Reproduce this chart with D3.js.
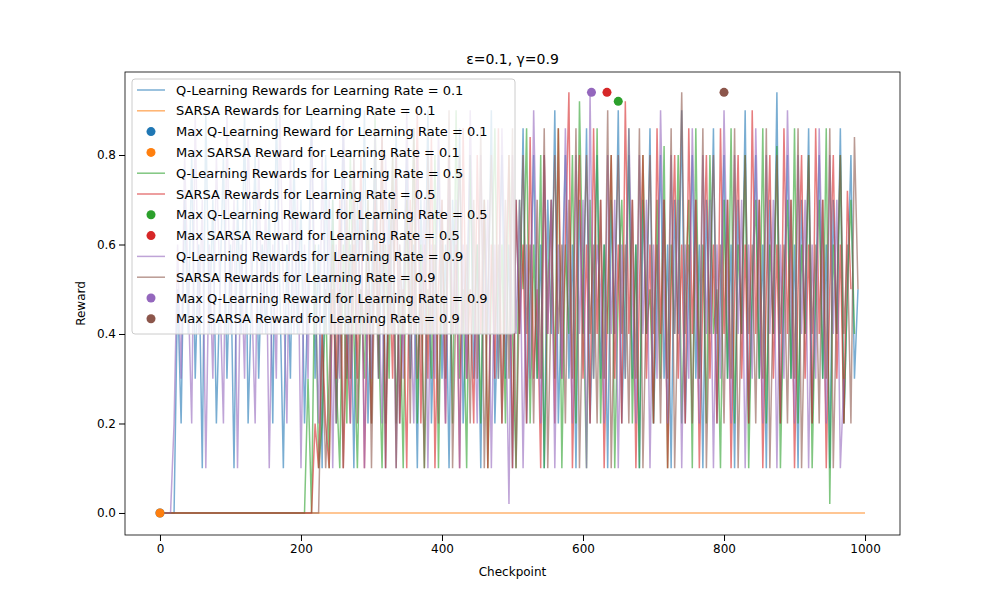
<!DOCTYPE html><html><head><meta charset="utf-8"><script src="https://cdn.jsdelivr.net/npm/d3@7"></script>
<style>body{margin:0;background:#fff}text{font-family:"DejaVu Sans",sans-serif}</style></head><body><svg width="1000" height="600"></svg>
<script>
const step = 5;
const qlr01 = [0,0,0,0,0,0.5,0.2,0.7,0.4,0.8,0.3,0.6,0.1,0.9,0.4,0.7,0.2,0.5,0.8,0.3,0.6,0.1,0.7,0.4,0.9,0.2,0.5,0.8,0.3,0.6,0.4,0.7,0.2,0.9,0.5,0.1,0.6,0.3,0.8,0.4,0.7,0.2,0.5,0.9,0.3,0.6,0.1,0.8,0.4,0.7,0.2,0.5,0.86,0.3,0.6,0.1,0.7,0.4,0.9,0.2,0.5,0.8,0.3,0.6,0.1,0.7,0.4,0.86,0.2,0.5,0.8,0.3,0.6,0.1,0.7,0.4,0.9,0.2,0.5,0.8,0.3,0.6,0.1,0.7,0.4,0.86,0.2,0.5,0.8,0.3,0.6,0.1,0.7,0.4,0.9,0.2,0.5,0.8,0.3,0.6,0.1,0.7,0.4,0.86,0.2,0.5,0.8,0.3,0.6,0.1,0.7,0.4,0.9,0.2,0.5,0.8,0.3,0.6,0.1,0.7,0.4,0.86,0.2,0.5,0.8,0.3,0.6,0.1,0.7,0.4,0.9,0.2,0.5,0.8,0.3,0.6,0.1,0.7,0.4,0.86,0.2,0.5,0.8,0.3,0.6,0.1,0.7,0.4,0.9,0.2,0.5,0.8,0.3,0.6,0.1,0.7,0.4,0.86,0.2,0.5,0.8,0.3,0.6,0.1,0.7,0.4,0.9,0.2,0.5,0.8,0.3,0.6,0.1,0.7,0.4,0.94,0.2,0.5,0.8,0.3,0.6,0.1,0.7,0.4,0.86,0.2,0.5,0.8,0.3,0.6,0.1,0.7,0.4,0.86,0.2,0.5,0.8,0.3,0.5];
const sarsa01 = [0,0,0,0,0,0,0,0,0,0,0,0,0,0,0,0,0,0,0,0,0,0,0,0,0,0,0,0,0,0,0,0,0,0,0,0,0,0,0,0,0,0,0,0,0,0,0,0,0,0,0,0,0,0,0,0,0,0,0,0,0,0,0,0,0,0,0,0,0,0,0,0,0,0,0,0,0,0,0,0,0,0,0,0,0,0,0,0,0,0,0,0,0,0,0,0,0,0,0,0,0,0,0,0,0,0,0,0,0,0,0,0,0,0,0,0,0,0,0,0,0,0,0,0,0,0,0,0,0,0,0,0,0,0,0,0,0,0,0,0,0,0,0,0,0,0,0,0,0,0,0,0,0,0,0,0,0,0,0,0,0,0,0,0,0,0,0,0,0,0,0,0,0,0,0,0,0,0,0,0,0,0,0,0,0,0,0,0,0,0,0,0,0,0,0,0,0,0,0,0,0];
const qlr05 = [0,0,0,0,0,0,0,0,0,0,0,0,0,0,0,0,0,0,0,0,0,0,0,0,0,0,0,0,0,0,0,0,0,0,0,0,0,0,0,0,0,0,0.3,0,0.6,0.1,0.2,0.5,0.1,0.7,0.3,0.1,0.6,0.2,0.8,0.4,0.1,0.5,0.3,0.7,0.2,0.9,0.4,0.1,0.6,0.3,0.8,0.2,0.5,0.1,0.7,0.4,0.86,0.2,0.6,0.1,0.5,0.3,0.8,0.1,0.6,0.4,0.7,0.2,0.9,0.3,0.5,0.1,0.8,0.4,0.6,0.2,0.7,0.1,0.5,0.86,0.3,0.6,0.2,0.8,0.4,0.1,0.7,0.5,0.86,0.2,0.6,0.3,0.8,0.1,0.5,0.7,0.3,0.86,0.1,0.6,0.4,0.8,0.2,0.92,0.5,0.1,0.7,0.3,0.86,0.2,0.6,0.4,0.8,0.1,0.5,0.7,0.3,0.86,0.2,0.6,0.1,0.8,0.4,0.5,0.2,0.7,0.3,0.82,0.1,0.6,0.4,0.8,0.2,0.5,0.7,0.1,0.86,0.3,0.6,0.2,0.8,0.4,0.5,0.1,0.7,0.3,0.86,0.2,0.6,0.4,0.8,0.1,0.5,0.7,0.3,0.86,0.2,0.6,0.4,0.82,0.1,0.5,0.7,0.3,0.86,0.2,0.6,0.4,0.8,0.1,0.5,0.7,0.3,0.86,0.02,0.6,0.4,0.8,0.2,0.5,0.7,0.4];
const sarsa05 = [0,0,0,0,0,0,0,0,0,0,0,0,0,0,0,0,0,0,0,0,0,0,0,0,0,0,0,0,0,0,0,0,0,0,0,0,0,0,0,0,0,0,0,0,0.2,0.1,0.4,0.2,0.1,0.5,0.3,0.7,0.1,0.4,0.2,0.6,0.3,0.8,0.1,0.5,0.2,0.7,0.4,0.86,0.1,0.6,0.3,0.8,0.2,0.5,0.1,0.7,0.4,0.9,0.2,0.6,0.3,0.84,0.1,0.5,0.7,0.2,0.8,0.4,0.6,0.1,0.86,0.3,0.5,0.2,0.8,0.4,0.7,0.1,0.6,0.3,0.86,0.2,0.5,0.8,0.1,0.7,0.4,0.6,0.2,0.84,0.3,0.5,0.1,0.8,0.4,0.7,0.2,0.86,0.3,0.6,0.94,0.1,0.5,0.8,0.3,0.6,0.2,0.86,0.4,0.7,0.1,0.5,0.8,0.3,0.6,0.2,0.92,0.4,0.7,0.1,0.5,0.8,0.3,0.6,0.2,0.86,0.4,0.7,0.1,0.5,0.8,0.3,0.6,0.2,0.86,0.4,0.7,0.1,0.5,0.8,0.3,0.6,0.2,0.86,0.4,0.7,0.1,0.5,0.8,0.3,0.6,0.2,0.9,0.4,0.7,0.1,0.5,0.8,0.3,0.6,0.2,0.86,0.4,0.7,0.1,0.5,0.8,0.3,0.6,0.2,0.86,0.4,0.7,0.1,0.5,0.8,0.3,0.6,0.2,0.72,0.5];
const qlr09 = [0,0,0,0,0.2,0.6,0.3,0.8,0.5,0.2,0.9,0.4,0.7,0.1,0.6,0.3,0.8,0.5,0.2,0.9,0.4,0.7,0.1,0.6,0.3,0.86,0.5,0.2,0.8,0.4,0.7,0.1,0.6,0.3,0.9,0.5,0.2,0.8,0.4,0.7,0.1,0.6,0.3,0.86,0.5,0.2,0.8,0.4,0.7,0.1,0.6,0.3,0.9,0.5,0.2,0.8,0.4,0.7,0.1,0.6,0.3,0.86,0.5,0.2,0.8,0.4,0.7,0.1,0.6,0.3,0.9,0.5,0.2,0.8,0.4,0.7,0.1,0.6,0.3,0.86,0.5,0.2,0.8,0.4,0.7,0.1,0.6,0.3,0.9,0.5,0.2,0.8,0.4,0.7,0.1,0.6,0.3,0.86,0.5,0.02,0.8,0.4,0.7,0.1,0.6,0.3,0.9,0.5,0.2,0.8,0.4,0.7,0.1,0.6,0.3,0.86,0.5,0.2,0.8,0.4,0.7,0.1,0.94,0.3,0.6,0.5,0.2,0.8,0.4,0.7,0.1,0.6,0.3,0.86,0.5,0.2,0.8,0.4,0.7,0.1,0.6,0.3,0.9,0.5,0.2,0.8,0.4,0.7,0.1,0.6,0.3,0.86,0.5,0.2,0.8,0.4,0.7,0.1,0.6,0.3,0.9,0.5,0.2,0.8,0.4,0.7,0.1,0.6,0.3,0.86,0.5,0.2,0.8,0.4,0.7,0.1,0.6,0.3,0.9,0.5,0.2,0.8,0.4,0.7,0.1,0.6,0.3,0.86,0.5,0.2,0.8,0.4,0.7,0.1,0.3];
const sarsa09 = [0,0,0,0,0,0,0,0,0,0,0,0,0,0,0,0,0,0,0,0,0,0,0,0,0,0,0,0,0,0,0,0,0,0,0,0,0,0,0,0,0,0,0,0,0,0,0.4,0.1,0.3,0.6,0.2,0.5,0.1,0.7,0.3,0.8,0.2,0.5,0.4,0.7,0.1,0.6,0.3,0.86,0.2,0.5,0.8,0.1,0.6,0.4,0.7,0.2,0.86,0.3,0.5,0.1,0.8,0.4,0.6,0.2,0.7,0.3,0.9,0.1,0.5,0.8,0.4,0.6,0.2,0.7,0.3,0.86,0.1,0.5,0.8,0.4,0.6,0.2,0.7,0.3,0.86,0.1,0.5,0.8,0.4,0.6,0.2,0.7,0.3,0.86,0.1,0.5,0.8,0.4,0.6,0.2,0.7,0.3,0.86,0.1,0.5,0.8,0.4,0.6,0.2,0.7,0.3,0.9,0.1,0.5,0.8,0.4,0.6,0.2,0.7,0.3,0.86,0.1,0.5,0.8,0.4,0.6,0.2,0.7,0.3,0.86,0.1,0.5,0.94,0.4,0.6,0.2,0.7,0.3,0.86,0.1,0.5,0.8,0.4,0.6,0.2,0.7,0.3,0.86,0.1,0.5,0.8,0.4,0.6,0.2,0.7,0.3,0.86,0.1,0.5,0.8,0.4,0.6,0.2,0.7,0.3,0.86,0.1,0.5,0.8,0.4,0.6,0.2,0.7,0.3,0.86,0.1,0.5,0.8,0.4,0.6,0.2,0.84,0.5];
const maxPoints = [[0,0],[0,0],[650,0.92],[634,0.94],[612,0.94],[800,0.94]];
const colors = ["#1f77b4","#ff7f0e","#2ca02c","#d62728","#9467bd","#8c564b"];
const series = [qlr01,sarsa01,qlr05,sarsa05,qlr09,sarsa09];
const xTicks=[0,200,400,600,800,1000], yTicks=[0,0.2,0.4,0.6,0.8];

const svg=d3.select("svg");
const L=125,R=900,T=72,B=535;
const x=d3.scaleLinear().domain([-49.6,1049.6]).range([L,R]);
const y=d3.scaleLinear().domain([-0.0492,0.9855]).range([B,T]);
const g=svg.append("g");
series.forEach((s,k)=>{
  g.append("path").datum(s.slice(0,201)).attr("fill","none").attr("stroke",colors[k]).attr("stroke-opacity",0.6).attr("stroke-width",1.5)
   .attr("d",d3.line().x((d,i)=>x(i*step)).y(d=>y(d)));
});
maxPoints.forEach((p,k)=>g.append("circle").attr("cx",x(p[0])).attr("cy",y(p[1])).attr("r",4.5).attr("fill",colors[k]));
svg.append("rect").attr("x",L).attr("y",T).attr("width",R-L).attr("height",B-T).attr("fill","none").attr("stroke","#000").attr("stroke-width",0.8);
svg.append("g").attr("transform",`translate(0,${B})`).call(d3.axisBottom(x).tickValues(xTicks).tickFormat(d3.format("d")).tickSizeOuter(0)).call(a=>a.select(".domain").remove()).selectAll("text").attr("font-size",12);
svg.append("g").attr("transform",`translate(${L},0)`).call(d3.axisLeft(y).tickValues(yTicks).tickFormat(d3.format(".1f")).tickSizeOuter(0)).call(a=>a.select(".domain").remove()).selectAll("text").attr("font-size",12);
svg.append("text").attr("x",(L+R)/2).attr("y",576).attr("text-anchor","middle").attr("font-size",12).text("Checkpoint");
svg.append("text").attr("transform",`translate(85,${(T+B)/2}) rotate(-90)`).attr("text-anchor","middle").attr("font-size",12).text("Reward");
svg.append("text").attr("x",(L+R)/2).attr("y",64).attr("text-anchor","middle").attr("font-size",14).text("ε=0.1, γ=0.9");
const lg=svg.append("g");
lg.append("rect").attr("x",132).attr("y",79).attr("width",383).attr("height",255).attr("rx",3).attr("fill","#fff").attr("fill-opacity",0.8).attr("stroke","#ccc");
const names=[];
[["0.1",0,1],["0.5",2,3],["0.9",4,5]].forEach(([lr,a,b])=>{
  names.push({t:`Q-Learning Rewards for Learning Rate = ${lr}`,c:colors[a],line:true});
  names.push({t:`SARSA Rewards for Learning Rate = ${lr}`,c:colors[b],line:true});
  names.push({t:`Max Q-Learning Reward for Learning Rate = ${lr}`,c:colors[a],line:false});
  names.push({t:`Max SARSA Reward for Learning Rate = ${lr}`,c:colors[b],line:false});
});
names.forEach((n,i)=>{
  const yy=90+i*20.8;
  if(n.line) lg.append("line").attr("x1",137).attr("x2",165).attr("y1",yy).attr("y2",yy).attr("stroke",n.c).attr("stroke-opacity",0.6).attr("stroke-width",1.5);
  else lg.append("circle").attr("cx",151).attr("cy",yy).attr("r",4.5).attr("fill",n.c);
  lg.append("text").attr("x",176).attr("y",yy+4.5).attr("font-size",13).text(n.t);
});
</script></body></html>
